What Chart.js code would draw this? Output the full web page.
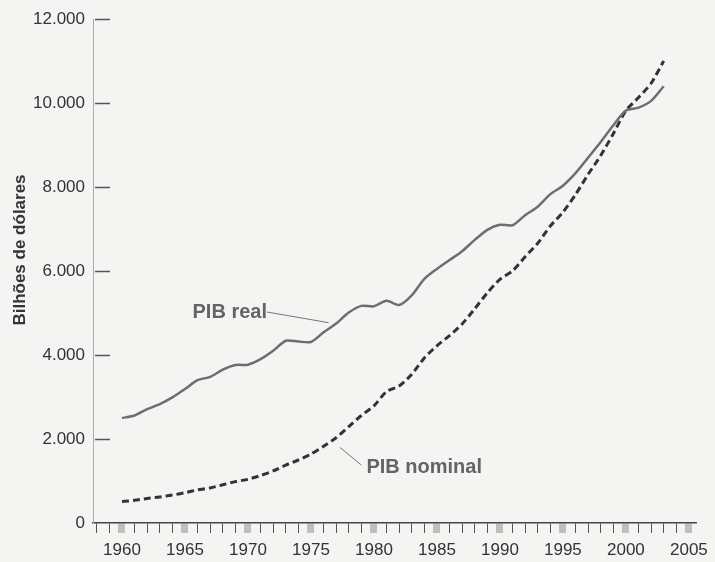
<!DOCTYPE html>
<html>
<head>
<meta charset="utf-8">
<script src="https://cdn.jsdelivr.net/npm/chart.js@4/dist/chart.umd.min.js"></script>
<style>
  html, body { margin: 0; padding: 0; background: #f4f4f2; }
  #wrap { width: 715px; height: 562px; }
</style>
</head>
<body>
<div id="wrap"><canvas id="c" width="715" height="562"></canvas></div>
<script>
// ---- Data ----
const years = [1960,1961,1962,1963,1964,1965,1966,1967,1968,1969,
               1970,1971,1972,1973,1974,1975,1976,1977,1978,1979,
               1980,1981,1982,1983,1984,1985,1986,1987,1988,1989,
               1990,1991,1992,1993,1994,1995,1996,1997,1998,1999,
               2000,2001,2002,2003];
const realGDP = [2500,2560,2710,2830,2990,3190,3400,3480,3650,3760,
                 3770,3900,4100,4340,4320,4310,4540,4750,5010,5170,
                 5160,5290,5190,5420,5810,6050,6260,6470,6740,6980,
                 7100,7090,7330,7530,7830,8030,8330,8700,9070,9470,
                 9820,9890,10050,10400];
const nominalGDP = [510,540,585,620,665,720,790,835,910,985,
                    1040,1130,1240,1380,1500,1640,1825,2030,2295,2560,
                    2790,3130,3260,3540,3930,4220,4460,4740,5100,5480,
                    5800,6000,6340,6660,7070,7400,7820,8300,8750,9270,
                    9820,10130,10470,11000];
const yTickValues = [0,2000,4000,6000,8000,10000,12000];
const yTickLabels = ['0','2.000','4.000','6.000','8.000','10.000','12.000'];
const xLabelYears = [1960,1965,1970,1975,1980,1985,1990,1995,2000,2005];
const xMinorYears = [];
for (let y = 1958; y <= 2005; y++) xMinorYears.push(y);
const seriesNames = ['PIB real', 'PIB nominal'];
const yAxisTitle = 'Bilhões de dólares';

const FONT = '"Liberation Sans", Arial, Helvetica, sans-serif';

const bgPlugin = {
  id: 'bg',
  beforeDraw(chart) {
    const ctx = chart.ctx;
    ctx.save();
    ctx.fillStyle = '#f4f4f2';
    ctx.fillRect(0, 0, chart.width, chart.height);
    ctx.restore();
  }
};

const decoPlugin = {
  id: 'deco',
  afterDraw(chart) {
    const ctx = chart.ctx;
    const xs = chart.scales.x, ys = chart.scales.y;
    const a = chart.chartArea;
    ctx.save();
    // inner y tick dashes
    ctx.strokeStyle = '#555';
    ctx.lineWidth = 1.5;
    yTickValues.forEach(v => {
      if (v === 0) return;
      const py = Math.round(ys.getPixelForValue(v)) + 0.5;
      ctx.beginPath();
      ctx.moveTo(a.left + 2, py);
      ctx.lineTo(a.left + 17, py);
      ctx.stroke();
    });
    // y axis title
    ctx.fillStyle = '#333';
    ctx.font = 'bold 17px ' + FONT;
    ctx.textAlign = 'center';
    ctx.textBaseline = 'middle';
    ctx.translate(20, ys.getPixelForValue(6500));
    ctx.rotate(-Math.PI / 2);
    ctx.fillText(yAxisTitle, 0, 0);
    ctx.setTransform(1, 0, 0, 1, 0, 0);
    // annotations
    const P = (x, y) => [xs.getPixelForValue(x), ys.getPixelForValue(y)];
    ctx.font = 'bold 20px ' + FONT;
    ctx.fillStyle = '#646464';
    ctx.textAlign = 'left';
    let [tx, ty] = P(1965.6, 5024);
    ctx.fillText(seriesNames[0], tx, ty);
    [tx, ty] = P(1979.4, 1310);
    ctx.fillText(seriesNames[1], tx, ty);
    ctx.strokeStyle = '#777';
    ctx.lineWidth = 1;
    let [x1, y1] = P(1971.5, 5024), [x2, y2] = P(1976.4, 4770);
    ctx.beginPath(); ctx.moveTo(x1, y1); ctx.lineTo(x2, y2); ctx.stroke();
    [x1, y1] = P(1979.0, 1380); [x2, y2] = P(1977.3, 1800);
    ctx.beginPath(); ctx.moveTo(x1, y1); ctx.lineTo(x2, y2); ctx.stroke();
    ctx.restore();
  }
};

new Chart(document.getElementById('c'), {
  type: 'line',
  data: {
    datasets: [
      {
        label: seriesNames[0],
        data: years.map((y, i) => ({ x: y, y: realGDP[i] })),
        borderColor: '#6e6e6e',
        borderWidth: 2.5,
        pointRadius: 0,
        tension: 0.25,
        fill: false
      },
      {
        label: seriesNames[1],
        data: years.map((y, i) => ({ x: y, y: nominalGDP[i] })),
        borderColor: '#333333',
        borderWidth: 3,
        borderDash: [7, 4],
        pointRadius: 0,
        tension: 0.25,
        fill: false
      }
    ]
  },
  options: {
    responsive: false,
    animation: false,
    devicePixelRatio: 1,
    layout: { padding: { top: 19, right: 15, bottom: 0, left: 0 } },
    plugins: { legend: { display: false }, tooltip: { enabled: false }, title: { display: false } },
    scales: {
      x: {
        type: 'linear',
        min: 1957.7,
        max: 2005.6,
        afterBuildTicks: s => { s.ticks = xMinorYears.map(v => ({ value: v })); },
        afterFit: s => { s.height = 39; },
        ticks: {
          autoSkip: false,
          maxRotation: 0,
          padding: 7,
          font: { family: FONT, size: 17 },
          color: '#333',
          callback: v => xLabelYears.includes(v) ? String(v) : ''
        },
        grid: {
          drawOnChartArea: false,
          drawTicks: true,
          tickLength: 10,
          color: ctx => (ctx.tick && ctx.tick.value % 5 === 0) ? 'rgba(110,110,110,0.4)' : '#555',
          lineWidth: ctx => (ctx.tick && ctx.tick.value % 5 === 0) ? 7 : 1
        },
        border: { display: true, color: '#444', width: 1.5 }
      },
      y: {
        type: 'linear',
        min: 0,
        max: 12000,
        afterBuildTicks: s => { s.ticks = yTickValues.map(v => ({ value: v })); },
        afterFit: s => { s.width = 93; },
        ticks: {
          padding: 8,
          font: { family: FONT, size: 17 },
          color: '#333',
          callback: v => yTickLabels[yTickValues.indexOf(v)]
        },
        grid: { drawOnChartArea: false, drawTicks: false },
        border: { display: true, color: '#aaa', width: 1 }
      }
    }
  },
  plugins: [bgPlugin, decoPlugin]
});
</script>
</body>
</html>
